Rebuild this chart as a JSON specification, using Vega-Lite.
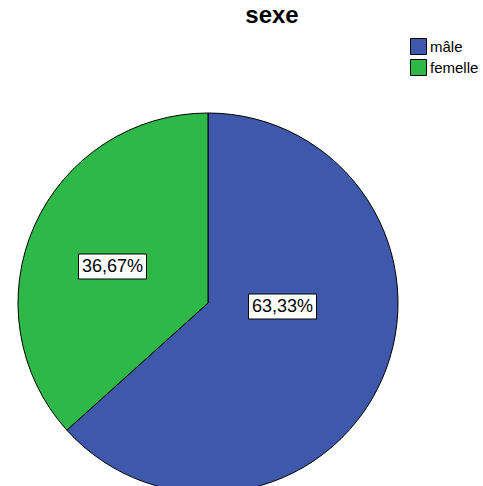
{
  "$schema": "https://vega.github.io/schema/vega-lite/v6.json",
  "width": 416,
  "height": 366,
  "autosize": {"type": "none"},
  "padding": {"left": 0, "top": 120, "right": 67, "bottom": 0},
  "background": "white",
  "title": {
    "text": "sexe",
    "font": "Liberation Sans",
    "fontSize": 24,
    "fontWeight": "bold",
    "color": "black",
    "anchor": "middle",
    "frame": "group",
    "dx": 64,
    "offset": 10
  },
  "data": {
    "values": [
      {"sexe": "mâle", "pct": 0.6333},
      {"sexe": "femelle", "pct": 0.3667}
    ]
  },
  "layer": [
    {
      "mark": {"type": "arc", "outerRadius": 190, "stroke": "black", "strokeWidth": 1},
      "encoding": {
        "theta": {"field": "pct", "type": "quantitative", "stack": true},
        "order": {"field": "sexe", "sort": "descending"},
        "color": {
          "field": "sexe",
          "type": "nominal",
          "scale": {"domain": ["mâle", "femelle"], "range": ["#3E58AC", "#2EB848"]},
          "legend": {
            "orient": "none",
            "legendX": 410,
            "legendY": -82,
            "title": null,
            "symbolType": "square",
            "symbolSize": 256,
            "symbolStrokeColor": "black",
            "symbolStrokeWidth": 1,
            "symbolOpacity": 1,
            "labelFont": "Liberation Sans",
            "labelFontSize": 15,
            "labelColor": "black",
            "labelOffset": 3,
            "rowPadding": 0,
            "padding": 0,
            "symbolOffset": 0
          }
        }
      }
    },
    {
      "transform": [{"filter": "datum.sexe === 'mâle'"}],
      "mark": {"type": "point", "shape": "M40.5,-9H108.5V16H40.5Z", "filled": true, "fill": "white", "stroke": "black", "strokeWidth": 1, "size": 4, "opacity": 1}
    },
    {
      "transform": [{"filter": "datum.sexe === 'femelle'"}],
      "mark": {"type": "point", "shape": "M-129.5,-49H-61.5V-24H-129.5Z", "filled": true, "fill": "white", "stroke": "black", "strokeWidth": 1, "size": 4, "opacity": 1}
    },
    {
      "transform": [{"filter": "datum.sexe === 'mâle'"}],
      "mark": {"type": "text", "font": "Liberation Sans", "fontSize": 18, "color": "black", "align": "center", "baseline": "middle", "dx": 74.5, "dy": 3.5},
      "encoding": {"text": {"field": "pct", "type": "quantitative", "format": ".2%"}}
    },
    {
      "transform": [{"filter": "datum.sexe === 'femelle'"}],
      "mark": {"type": "text", "font": "Liberation Sans", "fontSize": 18, "color": "black", "align": "center", "baseline": "middle", "dx": -95.5, "dy": -36.5},
      "encoding": {"text": {"field": "pct", "type": "quantitative", "format": ".2%"}}
    }
  ],
  "config": {
    "locale": {"number": {"decimal": ",", "thousands": " ", "grouping": [3], "currency": ["", " €"]}},
    "view": {"stroke": null}
  }
}
